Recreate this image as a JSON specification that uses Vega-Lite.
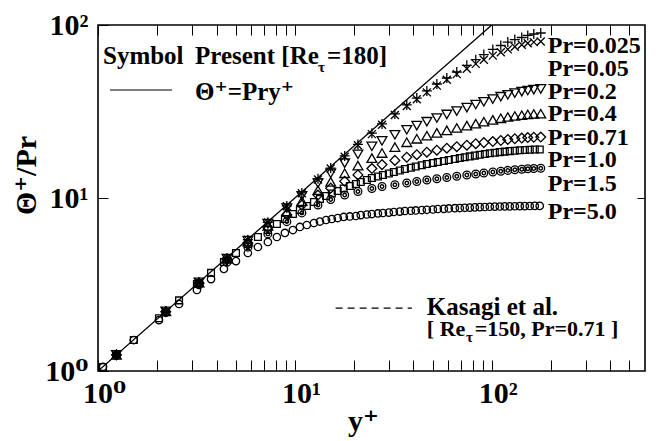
{
  "$schema": "https://vega.github.io/schema/vega-lite/v6.json",
  "width": 547,
  "height": 346,
  "autosize": {"type": "none"},
  "padding": {"left": 98, "top": 25, "right": 14, "bottom": 70},
  "background": "white",
  "config": {
    "view": {"stroke": "black", "strokeWidth": 1.6},
    "font": "'Liberation Serif', 'Times New Roman', 'DejaVu Serif', serif",
    "text": {"font": "'Liberation Serif', 'Times New Roman', 'DejaVu Serif', serif", "fontWeight": "bold", "color": "black"}
  },
  "datasets": {
    "ident": [{"yp": 1, "t": 1}, {"yp": 100, "t": 100}],
    "dense": [
      {"pr":"1.0","yp":1.06,"t":1.055},{"pr":"1.0","yp":1.52,"t":1.51},{"pr":"1.0","yp":2.04,"t":2.02},{"pr":"1.0","yp":2.58,"t":2.56},{"pr":"1.0","yp":3.18,"t":3.18},{"pr":"1.0","yp":3.75,"t":3.69},{"pr":"1.0","yp":4.36,"t":4.27},{"pr":"1.0","yp":5.02,"t":4.81},{"pr":"1.0","yp":5.77,"t":5.42},{"pr":"1.0","yp":6.49,"t":5.95},
      {"pr":"1.0","yp":7.29,"t":6.53},{"pr":"1.0","yp":8.10,"t":7.07},{"pr":"1.0","yp":8.90,"t":7.56},{"pr":"1.0","yp":9.77,"t":8.08},{"pr":"1.0","yp":10.6,"t":8.52},{"pr":"1.0","yp":11.5,"t":8.99},{"pr":"1.0","yp":12.5,"t":9.48},{"pr":"1.0","yp":13.4,"t":9.87},{"pr":"1.0","yp":14.4,"t":10.27},{"pr":"1.0","yp":15.4,"t":10.62},
      {"pr":"1.0","yp":16.5,"t":10.98},{"pr":"1.0","yp":17.7,"t":11.35},{"pr":"1.0","yp":19.0,"t":11.73},{"pr":"1.0","yp":20.4,"t":12.05},{"pr":"1.0","yp":21.6,"t":12.38},{"pr":"1.0","yp":23.2,"t":12.71},{"pr":"1.0","yp":24.6,"t":13.05},{"pr":"1.0","yp":26.4,"t":13.31},{"pr":"1.0","yp":28.0,"t":13.58},{"pr":"1.0","yp":30.0,"t":13.86},
      {"pr":"1.0","yp":31.8,"t":14.14},{"pr":"1.0","yp":34.1,"t":14.42},{"pr":"1.0","yp":36.2,"t":14.71},{"pr":"1.0","yp":38.8,"t":14.95},{"pr":"1.0","yp":41.1,"t":15.21},{"pr":"1.0","yp":44.1,"t":15.46},{"pr":"1.0","yp":46.8,"t":15.73},{"pr":"1.0","yp":50.2,"t":15.94},{"pr":"1.0","yp":53.2,"t":16.15},{"pr":"1.0","yp":57.1,"t":16.37},
      {"pr":"1.0","yp":60.5,"t":16.59},{"pr":"1.0","yp":64.9,"t":16.81},{"pr":"1.0","yp":68.8,"t":17.03},{"pr":"1.0","yp":72.9,"t":17.21},{"pr":"1.0","yp":77.3,"t":17.40},{"pr":"1.0","yp":82.0,"t":17.58},{"pr":"1.0","yp":86.9,"t":17.77},{"pr":"1.0","yp":92.2,"t":17.96},{"pr":"1.0","yp":97.7,"t":18.13},{"pr":"1.0","yp":103.6,"t":18.27},
      {"pr":"1.0","yp":109.8,"t":18.42},{"pr":"1.0","yp":116.4,"t":18.54},{"pr":"1.0","yp":123.4,"t":18.67},{"pr":"1.0","yp":130.9,"t":18.77},{"pr":"1.0","yp":138.7,"t":18.87},{"pr":"1.0","yp":147.1,"t":18.95},{"pr":"1.0","yp":155.9,"t":19.00},{"pr":"1.0","yp":165.3,"t":19.05},{"pr":"1.0","yp":175.2,"t":19.07},
      {"pr":"5.0","yp":1.06,"t":1.055},{"pr":"5.0","yp":1.52,"t":1.51},{"pr":"5.0","yp":2.04,"t":1.97},{"pr":"5.0","yp":2.58,"t":2.44},{"pr":"5.0","yp":3.18,"t":2.94},{"pr":"5.0","yp":3.75,"t":3.40},{"pr":"5.0","yp":4.36,"t":3.89},{"pr":"5.0","yp":5.02,"t":4.32},{"pr":"5.0","yp":5.77,"t":4.81},{"pr":"5.0","yp":6.49,"t":5.21},
      {"pr":"5.0","yp":7.29,"t":5.57},{"pr":"5.0","yp":8.10,"t":5.95},{"pr":"5.0","yp":8.90,"t":6.28},{"pr":"5.0","yp":9.77,"t":6.53},{"pr":"5.0","yp":10.6,"t":6.80},{"pr":"5.0","yp":11.5,"t":6.98},{"pr":"5.0","yp":12.5,"t":7.17},{"pr":"5.0","yp":13.4,"t":7.31},{"pr":"5.0","yp":14.4,"t":7.46},{"pr":"5.0","yp":15.4,"t":7.56},
      {"pr":"5.0","yp":16.5,"t":7.66},{"pr":"5.0","yp":17.7,"t":7.77},{"pr":"5.0","yp":19.0,"t":7.82},{"pr":"5.0","yp":20.4,"t":7.87},{"pr":"5.0","yp":21.6,"t":7.97},{"pr":"5.0","yp":23.2,"t":8.03},{"pr":"5.0","yp":24.6,"t":8.08},{"pr":"5.0","yp":26.4,"t":8.14},{"pr":"5.0","yp":28.0,"t":8.19},{"pr":"5.0","yp":30.0,"t":8.24},
      {"pr":"5.0","yp":31.8,"t":8.30},{"pr":"5.0","yp":34.1,"t":8.35},{"pr":"5.0","yp":36.2,"t":8.41},{"pr":"5.0","yp":38.8,"t":8.44},{"pr":"5.0","yp":41.1,"t":8.47},{"pr":"5.0","yp":44.1,"t":8.52},{"pr":"5.0","yp":46.8,"t":8.55},{"pr":"5.0","yp":50.2,"t":8.58},{"pr":"5.0","yp":53.2,"t":8.64},{"pr":"5.0","yp":57.1,"t":8.66},
      {"pr":"5.0","yp":60.5,"t":8.70},{"pr":"5.0","yp":64.9,"t":8.73},{"pr":"5.0","yp":68.8,"t":8.75},{"pr":"5.0","yp":72.9,"t":8.78},{"pr":"5.0","yp":77.3,"t":8.80},{"pr":"5.0","yp":82.0,"t":8.83},{"pr":"5.0","yp":86.9,"t":8.85},{"pr":"5.0","yp":92.2,"t":8.87},{"pr":"5.0","yp":97.7,"t":8.90},{"pr":"5.0","yp":103.6,"t":8.91},
      {"pr":"5.0","yp":109.8,"t":8.93},{"pr":"5.0","yp":116.4,"t":8.94},{"pr":"5.0","yp":123.4,"t":8.95},{"pr":"5.0","yp":130.9,"t":8.96},{"pr":"5.0","yp":138.7,"t":8.97},{"pr":"5.0","yp":147.1,"t":8.98},{"pr":"5.0","yp":155.9,"t":8.99},{"pr":"5.0","yp":165.3,"t":9.0},{"pr":"5.0","yp":175.2,"t":9.0}
    ],
    "coarse": [
      {"pr":"0.025","yp":1.24,"t":1.24},{"pr":"0.025","yp":2.21,"t":2.21},{"pr":"0.025","yp":3.26,"t":3.26},{"pr":"0.025","yp":4.52,"t":4.50},{"pr":"0.025","yp":5.77,"t":5.74},{"pr":"0.025","yp":7.29,"t":7.24},{"pr":"0.025","yp":9.10,"t":9.0},{"pr":"0.025","yp":10.85,"t":10.7},
      {"pr":"0.025","yp":13.1,"t":12.9},{"pr":"0.025","yp":15.2,"t":14.9},{"pr":"0.025","yp":17.9,"t":17.5},{"pr":"0.025","yp":20.9,"t":20.4},{"pr":"0.025","yp":24.6,"t":23.7},{"pr":"0.025","yp":27.7,"t":26.8},{"pr":"0.025","yp":32.2,"t":30.6},{"pr":"0.025","yp":37.0,"t":34.5},
      {"pr":"0.025","yp":41.6,"t":37.8},{"pr":"0.025","yp":46.8,"t":41.6},{"pr":"0.025","yp":52.6,"t":45.6},{"pr":"0.025","yp":59.1,"t":49.4},{"pr":"0.025","yp":66.4,"t":53.5},{"pr":"0.025","yp":74.7,"t":58.5},{"pr":"0.025","yp":82.9,"t":63.0},{"pr":"0.025","yp":91.1,"t":67.5},
      {"pr":"0.025","yp":101.2,"t":72.2},{"pr":"0.025","yp":111.1,"t":76.1},{"pr":"0.025","yp":120.6,"t":79.7},{"pr":"0.025","yp":130.9,"t":82.4},{"pr":"0.025","yp":142.0,"t":84.7},{"pr":"0.025","yp":152.3,"t":87.0},{"pr":"0.025","yp":163.4,"t":88.7},{"pr":"0.025","yp":177.3,"t":89.9},
      {"pr":"0.05","yp":1.24,"t":1.24},{"pr":"0.05","yp":2.21,"t":2.21},{"pr":"0.05","yp":3.26,"t":3.25},{"pr":"0.05","yp":4.52,"t":4.49},{"pr":"0.05","yp":5.77,"t":5.73},{"pr":"0.05","yp":7.29,"t":7.22},{"pr":"0.05","yp":9.10,"t":8.97},{"pr":"0.05","yp":10.85,"t":10.65},
      {"pr":"0.05","yp":13.1,"t":12.8},{"pr":"0.05","yp":15.2,"t":14.8},{"pr":"0.05","yp":17.9,"t":17.3},{"pr":"0.05","yp":20.9,"t":20.2},{"pr":"0.05","yp":24.6,"t":23.4},{"pr":"0.05","yp":27.7,"t":26.5},{"pr":"0.05","yp":32.2,"t":30.2},{"pr":"0.05","yp":37.0,"t":34.0},
      {"pr":"0.05","yp":41.6,"t":37.2},{"pr":"0.05","yp":46.8,"t":40.8},{"pr":"0.05","yp":52.6,"t":44.6},{"pr":"0.05","yp":59.1,"t":48.2},{"pr":"0.05","yp":66.4,"t":52.0},{"pr":"0.05","yp":74.7,"t":55.8},{"pr":"0.05","yp":82.9,"t":59.6},{"pr":"0.05","yp":91.1,"t":63.0},
      {"pr":"0.05","yp":101.2,"t":66.5},{"pr":"0.05","yp":111.1,"t":69.6},{"pr":"0.05","yp":120.6,"t":72.3},{"pr":"0.05","yp":130.9,"t":74.8},{"pr":"0.05","yp":142.0,"t":76.8},{"pr":"0.05","yp":152.3,"t":78.5},{"pr":"0.05","yp":163.4,"t":79.6},{"pr":"0.05","yp":177.3,"t":80.3},
      {"pr":"0.2","yp":1.24,"t":1.24},{"pr":"0.2","yp":2.21,"t":2.21},{"pr":"0.2","yp":3.26,"t":3.25},{"pr":"0.2","yp":4.52,"t":4.47},{"pr":"0.2","yp":5.77,"t":5.68},{"pr":"0.2","yp":7.29,"t":7.1},{"pr":"0.2","yp":9.10,"t":8.75},{"pr":"0.2","yp":10.85,"t":10.3},
      {"pr":"0.2","yp":13.1,"t":12.2},{"pr":"0.2","yp":15.2,"t":13.9},{"pr":"0.2","yp":17.9,"t":15.9},{"pr":"0.2","yp":20.9,"t":17.9},{"pr":"0.2","yp":24.6,"t":19.9},{"pr":"0.2","yp":27.7,"t":21.4},{"pr":"0.2","yp":32.2,"t":23.2},{"pr":"0.2","yp":37.0,"t":24.8},
      {"pr":"0.2","yp":41.6,"t":26.2},{"pr":"0.2","yp":46.8,"t":27.6},{"pr":"0.2","yp":52.6,"t":29.0},{"pr":"0.2","yp":59.1,"t":30.4},{"pr":"0.2","yp":66.4,"t":31.8},{"pr":"0.2","yp":74.7,"t":33.3},{"pr":"0.2","yp":82.9,"t":34.7},{"pr":"0.2","yp":91.1,"t":36.0},
      {"pr":"0.2","yp":101.2,"t":37.3},{"pr":"0.2","yp":111.1,"t":38.5},{"pr":"0.2","yp":120.6,"t":39.5},{"pr":"0.2","yp":130.9,"t":40.4},{"pr":"0.2","yp":142.0,"t":41.2},{"pr":"0.2","yp":152.3,"t":41.8},{"pr":"0.2","yp":163.4,"t":42.3},{"pr":"0.2","yp":177.3,"t":42.7},
      {"pr":"0.4","yp":1.24,"t":1.24},{"pr":"0.4","yp":2.21,"t":2.21},{"pr":"0.4","yp":3.26,"t":3.24},{"pr":"0.4","yp":4.52,"t":4.44},{"pr":"0.4","yp":5.77,"t":5.6},{"pr":"0.4","yp":7.29,"t":6.9},{"pr":"0.4","yp":9.10,"t":8.3},{"pr":"0.4","yp":10.85,"t":9.6},
      {"pr":"0.4","yp":13.1,"t":11.1},{"pr":"0.4","yp":15.2,"t":12.4},{"pr":"0.4","yp":17.9,"t":13.9},{"pr":"0.4","yp":20.9,"t":15.4},{"pr":"0.4","yp":24.6,"t":17.0},{"pr":"0.4","yp":27.7,"t":18.2},{"pr":"0.4","yp":32.2,"t":19.7},{"pr":"0.4","yp":37.0,"t":21.0},
      {"pr":"0.4","yp":41.6,"t":22.0},{"pr":"0.4","yp":46.8,"t":22.9},{"pr":"0.4","yp":52.6,"t":23.8},{"pr":"0.4","yp":59.1,"t":24.6},{"pr":"0.4","yp":66.4,"t":25.4},{"pr":"0.4","yp":74.7,"t":26.2},{"pr":"0.4","yp":82.9,"t":26.9},{"pr":"0.4","yp":91.1,"t":27.6},
      {"pr":"0.4","yp":101.2,"t":28.3},{"pr":"0.4","yp":111.1,"t":28.9},{"pr":"0.4","yp":120.6,"t":29.4},{"pr":"0.4","yp":130.9,"t":29.8},{"pr":"0.4","yp":142.0,"t":30.1},{"pr":"0.4","yp":152.3,"t":30.4},{"pr":"0.4","yp":163.4,"t":30.6},{"pr":"0.4","yp":177.3,"t":30.7},
      {"pr":"0.71","yp":1.24,"t":1.24},{"pr":"0.71","yp":2.21,"t":2.2},{"pr":"0.71","yp":3.26,"t":3.22},{"pr":"0.71","yp":4.52,"t":4.4},{"pr":"0.71","yp":5.77,"t":5.5},{"pr":"0.71","yp":7.29,"t":6.75},{"pr":"0.71","yp":9.10,"t":8.0},{"pr":"0.71","yp":10.85,"t":9.1},
      {"pr":"0.71","yp":13.1,"t":10.4},{"pr":"0.71","yp":15.2,"t":11.4},{"pr":"0.71","yp":17.9,"t":12.5},{"pr":"0.71","yp":20.9,"t":13.6},{"pr":"0.71","yp":24.6,"t":14.8},{"pr":"0.71","yp":27.7,"t":15.6},{"pr":"0.71","yp":32.2,"t":16.5},{"pr":"0.71","yp":37.0,"t":17.2},
      {"pr":"0.71","yp":41.6,"t":17.8},{"pr":"0.71","yp":46.8,"t":18.4},{"pr":"0.71","yp":52.6,"t":18.9},{"pr":"0.71","yp":59.1,"t":19.4},{"pr":"0.71","yp":66.4,"t":19.8},{"pr":"0.71","yp":74.7,"t":20.2},{"pr":"0.71","yp":82.9,"t":20.6},{"pr":"0.71","yp":91.1,"t":20.9},
      {"pr":"0.71","yp":101.2,"t":21.2},{"pr":"0.71","yp":111.1,"t":21.5},{"pr":"0.71","yp":120.6,"t":21.8},{"pr":"0.71","yp":130.9,"t":22.0},{"pr":"0.71","yp":142.0,"t":22.2},{"pr":"0.71","yp":152.3,"t":22.35},{"pr":"0.71","yp":163.4,"t":22.45},{"pr":"0.71","yp":177.3,"t":22.5},
      {"pr":"1.5","yp":1.24,"t":1.23},{"pr":"1.5","yp":2.21,"t":2.18},{"pr":"1.5","yp":3.26,"t":3.15},{"pr":"1.5","yp":4.52,"t":4.25},{"pr":"1.5","yp":5.77,"t":5.2},{"pr":"1.5","yp":7.29,"t":6.2},{"pr":"1.5","yp":9.10,"t":7.3},{"pr":"1.5","yp":10.85,"t":8.2},
      {"pr":"1.5","yp":13.1,"t":9.1},{"pr":"1.5","yp":15.2,"t":9.8},{"pr":"1.5","yp":17.9,"t":10.4},{"pr":"1.5","yp":20.9,"t":10.9},{"pr":"1.5","yp":24.6,"t":11.35},{"pr":"1.5","yp":27.7,"t":11.65},{"pr":"1.5","yp":32.2,"t":11.94},{"pr":"1.5","yp":37.0,"t":12.21},
      {"pr":"1.5","yp":41.6,"t":12.46},{"pr":"1.5","yp":46.8,"t":12.71},{"pr":"1.5","yp":52.6,"t":12.93},{"pr":"1.5","yp":59.1,"t":13.14},{"pr":"1.5","yp":66.4,"t":13.36},{"pr":"1.5","yp":74.7,"t":13.58},{"pr":"1.5","yp":82.9,"t":13.76},{"pr":"1.5","yp":91.1,"t":13.95},
      {"pr":"1.5","yp":101.2,"t":14.14},{"pr":"1.5","yp":111.1,"t":14.29},{"pr":"1.5","yp":120.6,"t":14.44},{"pr":"1.5","yp":130.9,"t":14.56},{"pr":"1.5","yp":142.0,"t":14.67},{"pr":"1.5","yp":152.3,"t":14.75},{"pr":"1.5","yp":163.4,"t":14.81},{"pr":"1.5","yp":177.3,"t":14.85}
    ],
    "prLabels": [
      {"yp":192.5,"t":68.9,"text":"Pr=0.025"},
      {"yp":192.5,"t":50.7,"text":"Pr=0.05"},
      {"yp":192.5,"t":37.4,"text":"Pr=0.2"},
      {"yp":192.5,"t":27.9,"text":"Pr=0.4"},
      {"yp":192.5,"t":20.25,"text":"Pr=0.71"},
      {"yp":192.5,"t":15.11,"text":"Pr=1.0"},
      {"yp":192.5,"t":10.98,"text":"Pr=1.5"},
      {"yp":192.5,"t":7.56,"text":"Pr=5.0"}
    ],
    "notes": [
      {"yp":1.06,"t":59.5,"text":"Symbol"},
      {"yp":3.11,"t":59.5,"text":"Present [Re"},
      {"yp":14.54,"t":59.5,"text":"=180]"},
      {"yp":3.11,"t":36.9,"text":"Θ⁺=Pry⁺"},
      {"yp":46.8,"t":2.107,"text":"Kasagi et al."}
    ],
    "notes2": [
      {"yp":46.8,"t":1.593,"text":"[ Re"},
      {"yp":82.0,"t":1.593,"text":"=150, Pr=0.71 ]"}
    ],
    "subs": [
      {"yp":13.09,"t":53.5,"text":"τ"},
      {"yp":74.0,"t":1.477,"text":"τ"}
    ],
    "samples": [
      {"kind":"solid","yp":1.15,"yp2":2.375,"t":42.1},
      {"kind":"dashed","yp":16.1,"yp2":39.3,"t":2.31}
    ]
  },
  "layer": [
    {
      "data": {"name": "ident"},
      "mark": {"type": "line", "color": "black", "strokeWidth": 1.3, "clip": true},
      "encoding": {
        "x": {"field": "yp", "type": "quantitative",
          "scale": {"type": "log", "domain": [1, 600], "nice": false},
          "axis": {"orient": "bottom", "values": [1,2,3,4,5,6,7,8,9,10,20,30,40,50,60,70,80,90,100,200,300,400,500],
            "labelExpr": "datum.value == 1 ? '10⁰' : datum.value == 10 ? '10¹' : datum.value == 100 ? '10²' : ''",
            "domain": false, "grid": false, "tickSize": -11, "tickColor": "black", "tickWidth": 1,
            "labelFont": "'Liberation Serif', 'Times New Roman', 'DejaVu Serif', serif", "labelFontWeight": "bold", "labelFontSize": 30, "labelColor": "black",
            "labelPadding": 18, "labelOffset": 6, "labelOverlap": false, "labelFlush": false,
            "title": "y⁺", "titleFont": "'Liberation Serif', 'Times New Roman', 'DejaVu Serif', serif", "titleFontWeight": "bold", "titleFontSize": 30, "titleColor": "black",
            "titleX": 265, "titleY": 50, "titleBaseline": "middle"}},
        "y": {"field": "t", "type": "quantitative",
          "scale": {"type": "log", "domain": [1, 100], "nice": false},
          "axis": {"orient": "left", "values": [1, 10, 100],
            "labelExpr": "datum.value == 1 ? '10⁰' : datum.value == 10 ? '10¹' : '10²'",
            "domain": false, "grid": false, "tickSize": -10, "tickColor": "black", "tickWidth": 1,
            "labelFont": "'Liberation Serif', 'Times New Roman', 'DejaVu Serif', serif", "labelFontWeight": "bold", "labelFontSize": 30, "labelColor": "black",
            "labelPadding": 20, "labelFlush": false, "labelOverlap": false,
            "title": "Θ⁺/Pr", "titleFont": "'Liberation Serif', 'Times New Roman', 'DejaVu Serif', serif", "titleFontWeight": "bold", "titleFontSize": 30, "titleColor": "black",
            "titleX": -72, "titleY": 150, "titleAngle": 270, "titleAlign": "center", "titleBaseline": "middle"}}
      }
    },
    {
      "data": {"name": "dense"},
      "transform": [{"filter": "datum.pr == '5.0'"}],
      "mark": {"type": "point", "shape": "circle", "filled": false, "color": "black", "strokeWidth": 1.3, "size": 55, "opacity": 1},
      "encoding": {
        "x": {"field": "yp", "type": "quantitative", "scale": {"type": "log", "domain": [1, 600], "nice": false}, "axis": null},
        "y": {"field": "t", "type": "quantitative", "scale": {"type": "log", "domain": [1, 100], "nice": false}, "axis": null}
      }
    },
    {
      "data": {"name": "dense"},
      "transform": [{"filter": "datum.pr == '1.0'"}],
      "mark": {"type": "point", "shape": "square", "filled": false, "color": "black", "strokeWidth": 1.3, "size": 46, "opacity": 1},
      "encoding": {
        "x": {"field": "yp", "type": "quantitative", "scale": {"type": "log", "domain": [1, 600], "nice": false}, "axis": null},
        "y": {"field": "t", "type": "quantitative", "scale": {"type": "log", "domain": [1, 100], "nice": false}, "axis": null}
      }
    },
    {
      "data": {"name": "coarse"},
      "transform": [{"filter": "datum.pr == '1.5'"}],
      "mark": {"type": "point", "shape": "circle", "filled": false, "color": "black", "strokeWidth": 1.3, "size": 60, "opacity": 1},
      "encoding": {
        "x": {"field": "yp", "type": "quantitative", "scale": {"type": "log", "domain": [1, 600], "nice": false}, "axis": null},
        "y": {"field": "t", "type": "quantitative", "scale": {"type": "log", "domain": [1, 100], "nice": false}, "axis": null}
      }
    },
    {
      "data": {"name": "coarse"},
      "transform": [{"filter": "datum.pr == '1.5'"}],
      "mark": {"type": "point", "shape": "circle", "filled": false, "color": "black", "strokeWidth": 1.4, "size": 12, "opacity": 1},
      "encoding": {
        "x": {"field": "yp", "type": "quantitative", "scale": {"type": "log", "domain": [1, 600], "nice": false}, "axis": null},
        "y": {"field": "t", "type": "quantitative", "scale": {"type": "log", "domain": [1, 100], "nice": false}, "axis": null}
      }
    },
    {
      "data": {"name": "coarse"},
      "transform": [{"filter": "datum.pr == '0.71'"}],
      "mark": {"type": "point", "shape": "diamond", "filled": false, "color": "black", "strokeWidth": 1.3, "size": 95, "opacity": 1},
      "encoding": {
        "x": {"field": "yp", "type": "quantitative", "scale": {"type": "log", "domain": [1, 600], "nice": false}, "axis": null},
        "y": {"field": "t", "type": "quantitative", "scale": {"type": "log", "domain": [1, 100], "nice": false}, "axis": null}
      }
    },
    {
      "data": {"name": "coarse"},
      "transform": [{"filter": "datum.pr == '0.4'"}],
      "mark": {"type": "point", "shape": "triangle-up", "filled": false, "color": "black", "strokeWidth": 1.3, "size": 95, "opacity": 1},
      "encoding": {
        "x": {"field": "yp", "type": "quantitative", "scale": {"type": "log", "domain": [1, 600], "nice": false}, "axis": null},
        "y": {"field": "t", "type": "quantitative", "scale": {"type": "log", "domain": [1, 100], "nice": false}, "axis": null}
      }
    },
    {
      "data": {"name": "coarse"},
      "transform": [{"filter": "datum.pr == '0.2'"}],
      "mark": {"type": "point", "shape": "triangle-down", "filled": false, "color": "black", "strokeWidth": 1.3, "size": 95, "opacity": 1},
      "encoding": {
        "x": {"field": "yp", "type": "quantitative", "scale": {"type": "log", "domain": [1, 600], "nice": false}, "axis": null},
        "y": {"field": "t", "type": "quantitative", "scale": {"type": "log", "domain": [1, 100], "nice": false}, "axis": null}
      }
    },
    {
      "data": {"name": "coarse"},
      "transform": [{"filter": "datum.pr == '0.05'"}],
      "mark": {"type": "point", "shape": "M-1,-1L1,1M-1,1L1,-1", "filled": false, "color": "black", "strokeWidth": 1.3, "size": 64, "opacity": 1},
      "encoding": {
        "x": {"field": "yp", "type": "quantitative", "scale": {"type": "log", "domain": [1, 600], "nice": false}, "axis": null},
        "y": {"field": "t", "type": "quantitative", "scale": {"type": "log", "domain": [1, 100], "nice": false}, "axis": null}
      }
    },
    {
      "data": {"name": "coarse"},
      "transform": [{"filter": "datum.pr == '0.025'"}],
      "mark": {"type": "point", "shape": "M-1,0H1M0,-1V1", "filled": false, "color": "black", "strokeWidth": 1.3, "size": 100, "opacity": 1},
      "encoding": {
        "x": {"field": "yp", "type": "quantitative", "scale": {"type": "log", "domain": [1, 600], "nice": false}, "axis": null},
        "y": {"field": "t", "type": "quantitative", "scale": {"type": "log", "domain": [1, 100], "nice": false}, "axis": null}
      }
    },
    {
      "data": {"name": "samples"},
      "transform": [{"filter": "datum.kind == 'solid'"}],
      "mark": {"type": "rule", "color": "black", "strokeWidth": 1.2},
      "encoding": {
        "x": {"field": "yp", "type": "quantitative", "scale": {"type": "log", "domain": [1, 600], "nice": false}, "axis": null},
        "x2": {"field": "yp2"},
        "y": {"field": "t", "type": "quantitative", "scale": {"type": "log", "domain": [1, 100], "nice": false}, "axis": null}
      }
    },
    {
      "data": {"name": "samples"},
      "transform": [{"filter": "datum.kind == 'dashed'"}],
      "mark": {"type": "rule", "color": "black", "strokeWidth": 1.3, "strokeDash": [7, 5]},
      "encoding": {
        "x": {"field": "yp", "type": "quantitative", "scale": {"type": "log", "domain": [1, 600], "nice": false}, "axis": null},
        "x2": {"field": "yp2"},
        "y": {"field": "t", "type": "quantitative", "scale": {"type": "log", "domain": [1, 100], "nice": false}, "axis": null}
      }
    },
    {
      "data": {"name": "notes"},
      "mark": {"type": "text", "align": "left", "baseline": "alphabetic", "fontSize": 25, "font": "'Liberation Serif', 'Times New Roman', 'DejaVu Serif', serif", "fontWeight": "bold", "color": "black"},
      "encoding": {
        "x": {"field": "yp", "type": "quantitative", "scale": {"type": "log", "domain": [1, 600], "nice": false}, "axis": null},
        "y": {"field": "t", "type": "quantitative", "scale": {"type": "log", "domain": [1, 100], "nice": false}, "axis": null},
        "text": {"field": "text"}
      }
    },
    {
      "data": {"name": "notes2"},
      "mark": {"type": "text", "align": "left", "baseline": "alphabetic", "fontSize": 22, "font": "'Liberation Serif', 'Times New Roman', 'DejaVu Serif', serif", "fontWeight": "bold", "color": "black"},
      "encoding": {
        "x": {"field": "yp", "type": "quantitative", "scale": {"type": "log", "domain": [1, 600], "nice": false}, "axis": null},
        "y": {"field": "t", "type": "quantitative", "scale": {"type": "log", "domain": [1, 100], "nice": false}, "axis": null},
        "text": {"field": "text"}
      }
    },
    {
      "data": {"name": "subs"},
      "mark": {"type": "text", "align": "left", "baseline": "alphabetic", "fontSize": 15, "font": "'Liberation Serif', 'Times New Roman', 'DejaVu Serif', serif", "fontWeight": "bold", "color": "black"},
      "encoding": {
        "x": {"field": "yp", "type": "quantitative", "scale": {"type": "log", "domain": [1, 600], "nice": false}, "axis": null},
        "y": {"field": "t", "type": "quantitative", "scale": {"type": "log", "domain": [1, 100], "nice": false}, "axis": null},
        "text": {"field": "text"}
      }
    },
    {
      "data": {"name": "prLabels"},
      "mark": {"type": "text", "align": "left", "baseline": "alphabetic", "fontSize": 24, "font": "'Liberation Serif', 'Times New Roman', 'DejaVu Serif', serif", "fontWeight": "bold", "color": "black"},
      "encoding": {
        "x": {"field": "yp", "type": "quantitative", "scale": {"type": "log", "domain": [1, 600], "nice": false},
          "axis": {"orient": "top", "values": [1,2,3,4,5,6,7,8,9,10,20,30,40,50,60,70,80,90,100,200,300,400,500],
            "labels": false, "domain": false, "grid": false, "tickSize": -10, "tickColor": "black", "tickWidth": 1, "title": null}},
        "y": {"field": "t", "type": "quantitative", "scale": {"type": "log", "domain": [1, 100], "nice": false},
          "axis": {"orient": "right", "values": [10], "labels": false, "domain": false, "grid": false,
            "tickSize": -8, "tickColor": "black", "tickWidth": 1, "title": null}},
        "text": {"field": "text"}
      }
    }
  ],
  "resolve": {"axis": {"x": "independent", "y": "independent"}}
}
